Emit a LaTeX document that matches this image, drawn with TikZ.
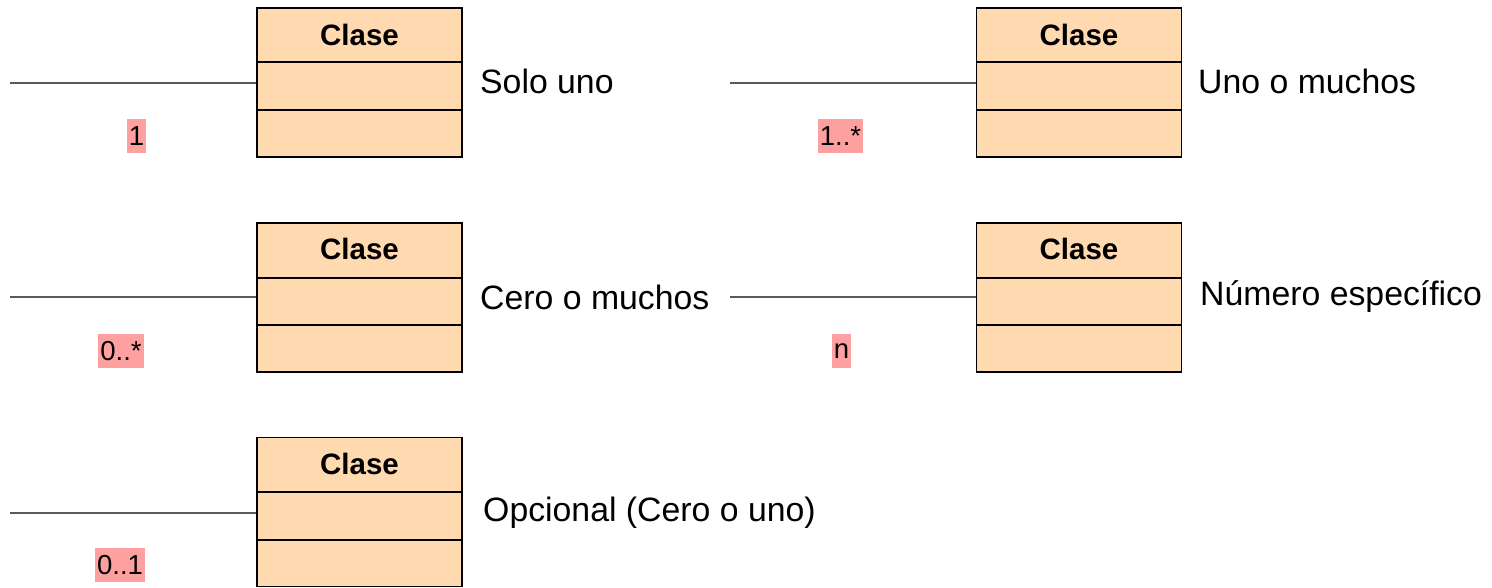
\documentclass[tikz,border=0pt]{standalone}
\usepackage{fontspec}
\setmainfont{Liberation Sans}
\definecolor{peach}{RGB}{255,218,176}
\definecolor{pinklab}{RGB}{255,160,160}
\definecolor{linegray}{RGB}{90,90,90}
\begin{document}
\begin{tikzpicture}[x=1pt,y=-1pt,
  classbox/.style={draw=black,line width=1.8pt,fill=peach,minimum width=205pt,minimum height=149pt,inner sep=0pt},
  divider/.style={draw=black,line width=1.8pt},
  title/.style={font=\fontsize{29.5}{31}\selectfont\bfseries,inner sep=0pt},
  conn/.style={draw=linegray,line width=1.2pt},
  mult/.style={fill=pinklab,font=\fontsize{27.5}{29}\selectfont,inner xsep=2pt,inner ysep=0pt,minimum height=34pt},
  desc/.style={font=\fontsize{33.8}{36}\selectfont,anchor=west,inner sep=0pt}]
\useasboundingbox (0,0) rectangle (1492,588);
% boxes
\node[classbox] (b1) at (359.5,82.5) {};
\node[classbox] (b2) at (1079,82.5) {};
\node[classbox] (b3) at (359.5,297.5) {};
\node[classbox] (b4) at (1079,297.5) {};
\node[classbox] (b5) at (359.5,512) {};
\foreach \b/\t/\da/\db in {b1/8/62/110, b2/8/62/110, b3/222/278/325, b4/222/278/325, b5/437/492/540}{
  \draw[divider] (\b.west |- 0,\da) -- (\b.east |- 0,\da);
  \draw[divider] (\b.west |- 0,\db) -- (\b.east |- 0,\db);
}
\node[title] (t1) at (359.5,35) {Clase};
\node[title] (t2) at (1079,35) {Clase};
\node[title] (t3) at (359.5,249) {Clase};
\node[title] (t4) at (1079,249) {Clase};
\node[title] (t5) at (359.5,464) {Clase};
% connectors
\coordinate (e1) at (10,83);
\coordinate (e2) at (730,83);
\coordinate (e3) at (10,297);
\coordinate (e4) at (730,297);
\coordinate (e5) at (10,513);
\draw[conn] (e1) -- (e1 -| b1.west);
\draw[conn] (e2) -- (e2 -| b2.west);
\draw[conn] (e3) -- (e3 -| b3.west);
\draw[conn] (e4) -- (e4 -| b4.west);
\draw[conn] (e5) -- (e5 -| b5.west);
% multiplicities
\node[mult] (m1) at (136.5,136) {1};
\node[mult] (m2) at (840.5,136) {1..*};
\node[mult] (m3) at (121,351) {0..*};
\node[mult] (m4) at (841.5,351) {n};
\node[mult] (m5) at (120,565) {0..1};
% descriptions
\node[desc] (d1) at (480,81) {Solo uno};
\node[desc] (d2) at (1198,81) {Uno o muchos};
\node[desc] (d3) at (480,297) {Cero o muchos};
\node[desc] (d4) at (1200,297) {Número específico};
\node[desc] (d5) at (483,513) {Opcional (Cero o uno)};
\end{tikzpicture}
\end{document}
